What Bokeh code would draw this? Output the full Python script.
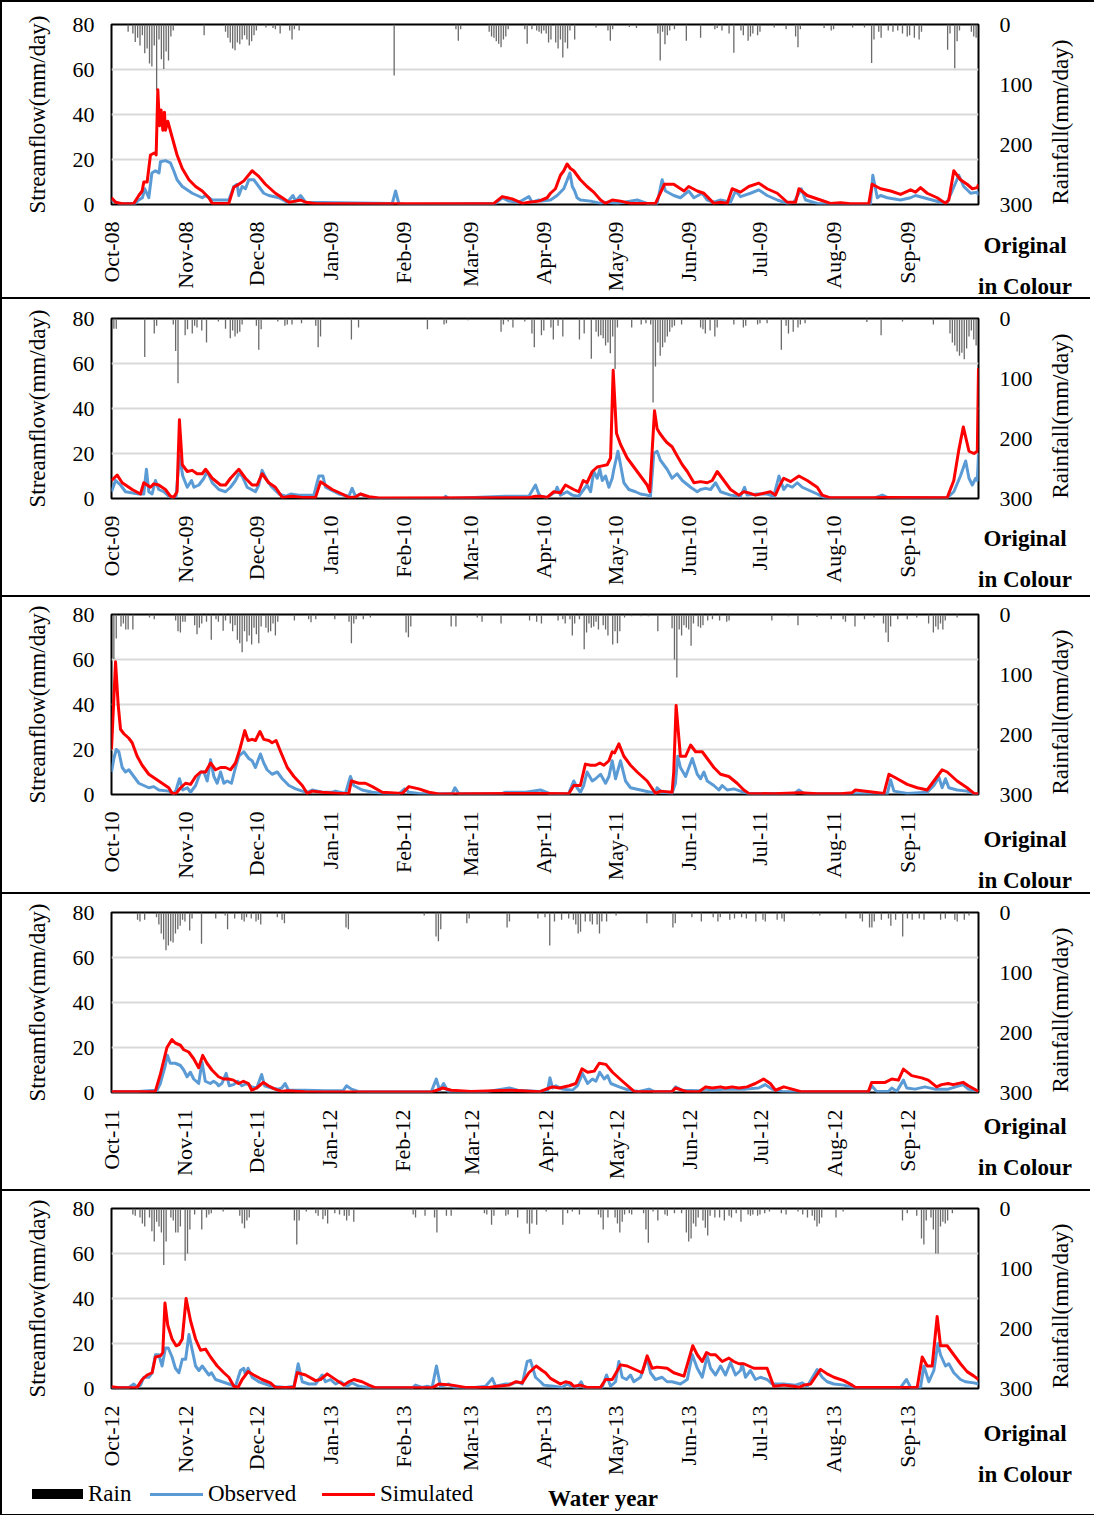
import math
import pandas as pd
from bokeh.plotting import figure
from bokeh.models import Range1d, LinearAxis, FixedTicker, Div
from bokeh.layouts import column
from bokeh.embed import file_html
from bokeh.resources import INLINE

FONT = "Liberation Serif"
WATER_YEARS = [2008, 2009, 2010, 2011, 2012]

OBS1 = [(0,2),(3,0.5),(10,0.5),(11.5,2),(13,3),(14,7),(15.7,3),(17,14),(18.5,15),(20,14),(20.6,19),(22.7,19.5),(24.8,18.5),(26.2,15),(27.6,11),(29.8,8),(34,5),(38.2,3),(39.6,4),(41,3),(42.4,2),(49.4,2),(51.5,8),(52.9,9),(53.6,4),(55,8),(56.4,7),(57.8,11),(59.9,11),(62,8),(64.1,5),(66.2,4),(70.5,3),(74,1),(76.4,4),(77.5,1.5),(79.6,4),(81.7,1),(95.7,0.8),(118.2,0.5),(119.6,6),(121,0.3),(123.8,0),(161.7,0.5),(164.5,3),(167.3,1.5),(171.5,1),(175.7,3.5),(177.1,1),(179.9,2),(181,1.5),(184.8,2),(187.6,4),(190.4,7),(193,14),(194,8),(195,6),(196,3),(197.4,2),(201.7,1.5),(205.9,0.5),(208.7,1),(212.9,0.5),(221.3,2),(225.5,0.5),(229.7,0.5),(231.8,11),(233.2,6),(236.7,4),(239.5,3),(243,6),(245.2,3),(248.7,5),(250.8,2),(253.6,1),(256.4,2),(260.6,1),(262.7,6),(264.8,3.5),(269,5),(272.5,6.5),(276,4),(280.3,2),(284.5,0.5),(287.3,1),(290.4,7),(292.2,2),(297.1,0.5),(306.9,0),(319.5,0),(320.5,13),(322.4,3),(323.8,4),(326.6,3),(332.2,2),(336.4,3),(338.5,4),(342,3),(349,1),(351.8,1),(353.9,6),(356.7,13),(358.8,8),(361.7,5),(364.5,5.5),(365,4)]
SIM1 = [(0,3),(1.7,1),(4.5,0.3),(9.4,0.5),(11.5,4),(12.9,6),(13.6,10),(15,10),(16.4,22),(18.2,23),(18.8,22),(19.5,51),(20.2,35),(20.9,42),(21.6,33),(22.3,41),(22.7,33),(23.7,37),(25.5,30),(27.6,22),(29.8,16),(32.6,11),(35.4,8),(38.2,6),(41,3),(42.4,0.5),(49.4,0.5),(51.5,7.7),(53.6,9),(55.7,10.5),(59.2,15),(62,12.5),(64.8,9),(69,5),(71.9,3),(74.7,1),(77.5,1.5),(79.6,2),(81.7,1),(86,0.3),(161,0.5),(164.5,3.5),(168.7,2.5),(173,0.5),(175.7,1),(179.9,1.5),(183.4,3),(184.8,5),(186.9,7),(189,13),(190.4,15),(191.8,18),(193.2,16),(194.6,15),(197.4,11),(200.2,8),(203,5.5),(205.9,2),(208,0.5),(210.8,2),(214.3,1.5),(218.5,0.5),(229,0.5),(232.8,9),(236.7,9),(241,6),(243,8),(246.6,6),(249.4,5),(253.6,0.5),(256.4,1),(259.2,0.5),(261.3,7),(264.8,5.5),(268.3,8),(272.5,9.5),(276,7),(280.3,5),(284.5,1),(288,1),(289.4,7),(292.9,4),(298.5,2),(302.7,0.5),(306.9,0.8),(311.1,0.3),(318.8,0.3),(320.2,9),(323.8,7),(328,6),(332.2,4.5),(336.4,6.5),(338.5,5.5),(340.6,7.5),(343.4,5),(347.6,3),(351.1,0.5),(352.5,2),(354.6,15),(357.4,11),(360.2,9),(362.4,7),(364.5,7.5),(365,9)]
RAIN1 = [(7,12),(9,15),(10,29),(11,22),(12,35),(13,18),(14,48),(15,40),(16,65),(17,70),(18,35),(19,110),(20,25),(21,58),(22,74),(23,45),(24,60),(25,20),(26,10),(39,18),(48,12),(49,22),(50,30),(51,40),(52,43),(53,30),(54,33),(55,25),(56,18),(57,25),(58,35),(59,28),(60,18),(61,10),(65,5),(68,6),(69,8),(71,15),(75,10),(76,25),(77,8),(79,10),(119,85),(145,8),(146,27),(147,8),(159,12),(160,20),(161,22),(162,28),(163,32),(164,38),(165,25),(166,20),(167,8),(174,8),(175,32),(177,8),(179,10),(180,12),(181,15),(182,10),(183,15),(184,30),(185,25),(187,30),(188,40),(189,25),(190,55),(191,30),(192,40),(193,10),(195,25),(204,5),(209,10),(210,27),(211,8),(218,4),(221,6),(230,15),(231,60),(232,12),(233,33),(234,18),(235,10),(237,8),(242,27),(248,22),(254,8),(255,6),(257,10),(260,15),(262,47),(265,10),(266,18),(268,27),(269,20),(270,15),(272,18),(273,12),(279,5),(284,8),(288,20),(289,38),(290,8),(300,6),(303,10),(304,8),(312,5),(317,5),(320,64),(321,25),(323,12),(324,22),(327,10),(329,12),(331,10),(333,15),(335,20),(336,18),(338,22),(340,25),(341,12),(352,42),(353,15),(355,73),(356,28),(357,10),(362,12),(363,20),(364,22)]

OBS2 = [(0,3),(1.7,8),(3.8,6),(5.9,3),(11.5,2),(13.6,2),(14.7,13),(15.7,3),(17.1,2),(18.5,8),(19.9,4),(22,3),(24.1,1),(25.5,0.5),(27.2,1),(28.6,19),(30,10),(31.9,5),(33.7,8),(34.7,5),(36.8,6),(38.9,9),(40.3,12),(42.4,7),(45.2,4),(48,3),(50.1,5),(52.2,8),(53.6,11),(55,10),(57.1,5),(60.6,3),(62,6),(63.4,12.5),(65.5,8),(67.6,5),(70.5,2),(73.3,1),(75.4,2),(78.9,1.5),(85.2,1.5),(87.3,10),(89,10),(90.1,5),(95.7,2),(99.9,1),(101.3,4.5),(102.7,1),(104.8,2),(108.4,0.5),(112.6,0),(140,0),(140.6,1),(142,0),(165.9,1),(175.7,1),(178.5,6),(179.9,2),(180.6,1),(183.4,0.5),(186.9,3),(187.6,5),(189,1.5),(191.8,3),(194,1.5),(196.7,1),(198.8,4),(200.2,6),(201.7,3),(203,12),(204.5,9),(205.6,13),(206.6,8),(208,10),(209.4,5),(210.8,9),(211.5,13),(213.2,21),(214.3,15),(215.7,7),(217.8,4),(220.6,3),(222.7,2),(225.5,1.5),(226.9,1),(228.3,20),(229.7,21),(231.1,17),(233.9,13),(236,9),(238.1,11),(240.3,8),(243.8,5),(246.6,3),(248,4),(250.1,4.5),(252.2,4),(254.3,7),(256.4,3),(260.6,1.5),(264.8,1),(266.5,5),(267.6,1.5),(271.8,2),(276,2),(278.8,1),(281,10),(283,4),(284.5,6),(286.6,5),(288.7,7),(290.8,5),(292.9,4),(297.1,2),(299.9,0.5),(302.7,0.2),(321,0.2),(324.5,1.5),(326.6,0.5),(351.8,0.3),(354.6,3),(357.4,10),(359.6,16.7),(361,9),(362.4,6),(363.8,9),(364.5,8),(365,20)]
SIM2 = [(0,8),(2.4,10.4),(4.5,7),(8.7,4),(12.2,2),(13.6,7),(15,6),(16.4,5),(17.8,6.5),(19.9,6),(22.7,4),(24.8,1),(26.2,0.5),(27.6,3),(28.6,35),(29.8,15),(31.9,12),(34,12.5),(36,11),(38.2,11),(39.6,13),(42.4,9),(45.9,6),(48,6),(50.1,9),(53.6,13),(56.4,9),(59.2,6),(61.3,6),(63.4,11),(66.2,7),(69,5),(71.9,0.5),(76,1),(80.3,0.5),(85.9,0.5),(88,7.4),(92.9,4),(97.1,2),(99.9,0.5),(102.7,0.7),(104.8,2),(108.4,0.8),(112.6,0.2),(175.7,0.3),(178.5,1),(180.6,1),(183.4,0.5),(186.2,3),(189,2.5),(191.1,6),(194.6,4),(196.7,3),(198.6,8),(200.2,7),(202.4,12),(204.5,14),(206.6,14.5),(208.7,15),(210.1,18),(211.2,57),(212.6,29),(214.3,24),(217.1,18),(219.9,14),(222.7,10),(225.5,6),(226.6,3),(228.6,39),(229.7,31),(230.8,29),(232.2,27),(233.7,25),(236,23),(238.1,19),(240.3,15),(242.4,12),(245.2,7),(248,7.5),(250.8,7),(252.9,8),(255,12),(257.1,9),(260.6,4),(264.1,1.5),(266.2,3),(268.3,2.5),(271.1,1.5),(275.3,2.5),(277.4,3),(279.5,1.5),(281.4,6),(283,9),(285.9,7.5),(289.4,10),(292.9,8),(297.1,5),(299.2,1.5),(302.7,0.3),(321,0.3),(325.2,0.5),(351.8,0.3),(354.6,8),(356.7,21.5),(358.6,31.8),(361,21),(363.1,20),(364.5,21),(365,58)]
RAIN2 = [(1,17),(2,17),(14,64),(18,25),(19,12),(26,10),(27,54),(28,108),(31,28),(32,18),(34,25),(35,12),(36,15),(38,20),(40,40),(45,5),(48,17),(50,33),(51,20),(52,30),(53,25),(54,22),(55,10),(61,12),(62,52),(63,18),(70,5),(73,12),(74,10),(76,10),(80,8),(86,12),(87,48),(88,30),(101,35),(104,15),(133,18),(140,10),(141,8),(150,3),(164,22),(165,10),(167,5),(169,15),(174,5),(177,25),(178,48),(181,28),(182,20),(185,15),(186,35),(188,12),(190,30),(197,35),(199,25),(202,67),(204,22),(205,30),(206,28),(207,33),(208,45),(209,40),(210,58),(211,30),(212,84),(213,15),(219,15),(223,10),(225,8),(227,10),(228,140),(229,80),(230,40),(231,62),(232,48),(233,40),(234,30),(235,22),(236,15),(237,12),(240,10),(248,15),(249,18),(250,25),(252,20),(254,30),(255,15),(262,10),(266,15),(267,12),(272,10),(273,8),(276,8),(282,52),(284,12),(285,25),(287,22),(289,15),(290,10),(292,8),(318,6),(324,28),(333,5),(346,10),(353,25),(354,40),(355,45),(356,55),(357,62),(358,57),(359,68),(360,50),(361,30),(362,20),(363,35),(364,45)]

OBS3 = [(0,10),(1,16),(2,20),(3.1,19),(4.5,12),(5.9,10),(7.3,11),(8.7,9),(10.1,7),(11.5,5),(13.6,4),(15.7,3),(17.8,3.5),(19.9,2),(24.1,1.5),(26.2,0.5),(27.2,2),(28.6,7),(30,2),(31.9,3),(33.3,1),(35.4,4),(37.5,10),(38.9,10),(40.3,6),(41.7,15.5),(43.1,8),(44.5,5),(45.9,10),(47.3,5),(48.7,6),(50.5,5),(52.2,12),(53.6,17),(55.7,19),(57.8,16),(59.2,15),(60.6,12),(62.7,18),(64.1,14),(65.5,11),(67.6,9),(69.8,10),(71.9,7),(74.7,4),(77.5,2.5),(80.3,1.5),(82.4,1),(84.5,2),(88.7,1),(92.9,1),(94.3,1.5),(98.5,0.5),(100.6,8),(102,4),(105.5,2),(109.8,1),(114,0.5),(121,0.3),(123.4,2.5),(125.2,1),(129.4,0.5),(143.4,0.3),(144.6,3),(146.2,0.3),(164.5,0.5),(165.9,1),(174.3,1),(180.6,2),(184.8,0.3),(192.5,0.5),(194.6,6),(196,3),(197.4,1),(198.8,4),(200.2,10),(202.4,6),(203.8,7),(205.9,9),(208,5),(209.4,8),(210.8,15),(212.2,7),(214.3,15),(216.4,6),(218.5,3),(222.7,2),(226.9,1),(229,0.5),(229.7,3),(231.8,1),(236,0.5),(237.4,5),(238.4,17),(239.5,12),(241.7,8),(244.5,16),(246.6,9),(248,7),(249.4,10),(250.8,6),(253.6,4),(255.7,2),(257.1,4),(259.2,2),(262,2.5),(264.8,1.5),(267.6,0.5),(278.8,0.5),(287.3,0.3),(289.4,2),(291.5,0.5),(297.1,0.3),(326.6,0.3),(328,6.5),(329.4,1.5),(335,0.5),(343.4,1),(346.2,4),(348.3,7.7),(349.7,3),(351.1,7),(352.5,3),(356,2),(360.2,1.5),(363.1,0.3),(365,0.2)]
SIM3 = [(0,20),(1.7,59),(2.8,40),(3.8,29),(5.2,27),(7.3,25),(8.7,23),(10.8,17),(12.9,13),(15.7,9),(18.5,7),(21.3,5),(24.1,3),(25.5,0.5),(27.2,0.5),(29.1,3),(31.2,5),(33.3,4.5),(35.4,8),(37.5,10),(39.6,10),(41.7,14),(43.8,11),(45.9,12),(48,12),(50.1,11),(52.2,14),(54,20),(56.1,28.4),(57.5,24),(59.2,24.5),(60.6,24),(62.5,28),(64.1,24.5),(66.2,24),(67.6,23),(69.3,24),(71.2,19),(74,12),(76.8,8),(80.3,4),(82.4,0.5),(84.5,1.5),(88.7,1),(95.7,0.5),(99.9,0.5),(101,6),(104.1,5),(106.9,5),(109.8,3.5),(114,1),(122.4,0.5),(125.2,3.5),(129.4,2.5),(133.6,1),(137.8,0.2),(180.6,0.5),(192.5,0.3),(194.6,4),(197.4,4),(199.5,13.5),(201.7,13),(203.8,13),(205.6,14),(207.3,13),(209.4,15),(210.8,19),(211.8,18.5),(213.6,22.5),(215.7,17),(218.5,13),(221.3,10),(225.5,6),(229,0.5),(231.1,1.5),(236,1),(236.7,10),(237.7,39.6),(239.5,17),(241.7,17),(243.8,22),(245.9,19),(248.7,19),(250.8,16),(253.6,12),(256.4,9),(259.9,8),(263.4,5),(266.2,2),(268.3,0.5),(278.8,0.3),(290.1,0.8),(297.1,0.3),(306.9,0.3),(311.8,0.8),(313.2,2),(321,1),(325.2,0.5),(327.3,9),(330.8,7),(335,4.5),(339.2,3),(343.4,2),(346.2,6),(349.7,11),(351.8,10),(356,6),(360.2,3),(363.1,0.5),(365,0.3)]
RAIN3 = [(1,74),(2,40),(4,20),(5,15),(6,25),(7,25),(9,25),(16,5),(18,8),(27,10),(28,28),(29,30),(30,12),(31,12),(35,18),(36,33),(37,22),(38,15),(40,12),(42,42),(44,8),(45,12),(47,27),(48,10),(50,15),(51,28),(52,18),(53,42),(54,48),(55,63),(56,28),(57,45),(58,35),(59,50),(60,22),(61,33),(62,48),(63,20),(65,22),(66,30),(67,28),(68,15),(69,35),(70,12),(77,10),(83,8),(84,13),(86,8),(94,8),(100,12),(101,48),(102,15),(103,8),(106,8),(109,5),(124,30),(125,38),(126,20),(143,20),(145,20),(154,5),(156,12),(164,15),(176,10),(179,12),(181,15),(188,10),(190,8),(191,15),(193,8),(194,35),(195,15),(197,8),(199,58),(200,30),(201,15),(202,22),(203,20),(204,12),(205,25),(207,18),(208,25),(209,35),(211,50),(212,28),(213,48),(214,28),(216,5),(219,3),(223,3),(226,3),(230,28),(236,23),(237,75),(238,105),(239,25),(240,35),(241,18),(242,22),(243,25),(244,52),(245,15),(247,20),(248,22),(249,18),(251,10),(253,8),(256,10),(259,12),(260,10),(278,10),(285,3),(289,18),(297,4),(303,8),(308,8),(309,12),(313,20),(317,8),(321,5),(325,15),(326,30),(327,46),(328,20),(331,8),(335,8),(339,5),(344,15),(346,30),(347,20),(348,25),(349,15),(350,25),(351,10),(356,5)]

OBS4 = [(0,0.5),(11.5,0.5),(15.7,0.8),(19.2,1),(20.6,4),(22.7,12),(23.6,16.6),(24.8,13),(26.9,13),(29.1,12),(30.5,10),(31.9,7),(33.3,9),(34.7,6),(36.8,4),(38.2,13.6),(39.6,5),(41.7,4),(43.1,5),(44.5,4),(45.2,3),(46.6,4),(48.4,8.5),(49.7,3),(51.5,3.5),(53.3,5),(55,3),(57.1,4),(59.2,2.5),(61.3,2),(63.4,8),(64.6,3),(67.6,2),(70.5,1.5),(71.9,2),(73.3,4),(74.7,1),(81.7,1),(90.1,0.8),(97.8,0.8),(99.2,3),(101.3,1.5),(104.1,0.5),(123.8,0.3),(135,0.3),(137.1,6),(138.5,1),(140.2,4),(142,0.5),(158.9,0.5),(168,2),(171.5,1),(180.6,0.5),(184.1,1),(185.1,6.5),(186.2,2),(187.6,3),(190.4,1.5),(194.6,1),(196.7,3),(198.8,8.5),(201,4),(203,6),(204.5,5),(206.1,9),(208,6),(209.4,7.5),(210.8,4),(214.3,2.5),(218.5,1),(222.7,0.5),(226.9,1.5),(229,0.5),(236.7,0.5),(238.1,2.5),(240.9,1),(248,0.8),(250.8,1.5),(253.6,1),(259.2,1.5),(267.6,1.5),(273.2,2),(276,3.5),(278.8,1.5),(283,0.5),(292.9,0.3),(319.5,0.3),(320.9,3),(323,0.5),(328,0.5),(329.4,2),(331.5,0.5),(334.3,5.5),(335.7,2),(339.2,1.5),(343.4,2.5),(347.6,1.5),(353.2,1.5),(359.5,3.5),(361.7,1.5),(366,0.5)]
SIM4 = [(0,0.3),(18.5,0.5),(20.6,8),(23.4,20),(25.5,23.5),(26.9,22),(29.1,21),(30.5,19),(32.6,18),(34.7,15),(36.8,11),(38.5,16.5),(40.3,13),(42.4,10),(45.2,7),(47.3,6),(49.4,6),(51.5,5.5),(53.6,4),(55.7,5),(57.8,4),(59.2,1),(61.3,2),(64.1,4.5),(66.2,3),(69,1.5),(71.9,0.5),(74,0.8),(81.7,0.3),(109.8,0.2),(135,0.2),(139.9,2),(143.4,1),(151.9,0.5),(168.7,1),(180.6,0.3),(184.8,2),(186.2,2.5),(189,2),(193.2,3),(196,4),(198.6,10.5),(201,9),(203.8,9.5),(205.9,13),(208.7,12.5),(211.5,9),(215.7,5),(220.6,0.5),(229.7,0.3),(236.7,0.5),(238.1,2),(242.4,0.5),(248,0.3),(250.8,2.5),(253.6,2),(257.1,2.5),(259.2,2),(262,2.5),(264.8,2),(268.3,2.5),(271.8,4),(275.3,6),(278.1,4),(280.3,1),(283.8,2.5),(287.3,1.5),(291.5,0.3),(319.5,0.3),(320.9,4.5),(326.6,4.5),(329.4,6),(332.2,5.5),(334.3,10.4),(337.8,7.5),(342,6.5),(344.8,5.5),(348.3,2.5),(350.4,3.5),(353.2,4),(355.3,3.5),(359.5,4.5),(361.7,3),(366,0.5)]
RAIN4 = [(11,12),(12,15),(14,12),(19,8),(20,20),(21,35),(22,45),(23,63),(24,55),(25,48),(26,50),(27,35),(28,28),(29,22),(30,12),(31,15),(33,30),(34,10),(38,52),(44,10),(48,5),(49,28),(52,10),(55,12),(56,15),(57,8),(59,10),(61,15),(62,12),(63,20),(70,8),(72,12),(73,18),(99,25),(100,28),(132,5),(137,40),(138,48),(139,28),(150,18),(151,10),(167,25),(168,15),(180,10),(183,8),(185,55),(187,15),(190,12),(193,10),(195,12),(196,20),(197,35),(198,32),(200,15),(202,15),(203,20),(205,20),(206,35),(207,15),(209,15),(213,5),(226,18),(237,25),(238,18),(245,8),(249,15),(254,8),(256,15),(257,8),(261,12),(263,10),(266,8),(268,10),(272,15),(275,12),(276,15),(281,12),(283,10),(284,15),(296,3),(299,5),(310,10),(316,10),(317,15),(320,25),(321,25),(322,15),(325,12),(328,10),(329,22),(331,12),(334,40),(336,10),(338,12),(341,10),(343,12),(350,12),(352,10),(356,12),(357,15),(360,12),(362,5)]

OBS5 = [(0,0.5),(7.3,0.5),(9.4,2),(10.8,0.5),(12.2,1.5),(13.6,5),(15.7,5),(17.1,7),(18.5,15),(19.9,15),(21.3,10),(22.7,18),(23.9,18),(25.5,14),(26.9,9),(28.4,7),(29.8,13),(31.2,13),(32.6,24),(34,17),(35.4,10),(36.8,8),(38.2,10),(39.6,8),(41,6),(42.1,7),(43.8,4),(46.6,3),(49.4,2),(52.2,1),(54.3,8),(55.7,9),(56.4,6),(57.5,9),(59.2,5),(62,3),(64.8,2),(67.6,1),(73.3,0.5),(76.8,1),(78.6,11),(80.3,3),(83.1,2),(85.9,2),(88.7,6),(90.1,3),(92.2,4),(94.3,2),(96.4,3),(99.2,1),(101.3,2.5),(104.1,1),(108.4,0.3),(126.6,0.3),(128,1.5),(130.8,0.5),(132.9,1),(135,0.5),(136.8,10),(138.5,1),(142,2),(144.1,0.5),(151.9,0.3),(157.5,1),(160.3,4.5),(161.7,1),(165.9,2),(168.7,2),(170.8,3),(172.9,2),(175,12),(176.4,12.5),(178.5,5),(180.6,3),(182,1.5),(186.2,1),(189.7,0.5),(191.8,2),(194,1),(196,0.5),(197.7,3),(198.8,0.5),(206.6,0.5),(208.4,6),(210.1,1),(212.2,3),(213.6,12),(215,5),(216.8,4),(218.5,6),(219.9,3),(222.7,5),(225.5,13.6),(226.9,7),(229,4),(231.8,5),(233.9,3),(236,3),(239.5,2),(242.4,4),(244.5,15),(246.6,9),(248.7,5),(250.8,14.4),(252.2,9),(254.3,6),(256.4,10),(258.5,6),(260.6,11.5),(262.7,6),(264.8,8),(265.5,11),(266.9,5),(269,8),(271.1,4),(273.2,5),(276,4),(278.1,2),(283,2),(288,1.5),(290.8,2.5),(292.9,1),(297.1,8.4),(299.2,5),(301.3,3),(304.1,2),(308.3,1.5),(311.8,0.5),(321,0.3),(332.2,0.5),(334.7,4),(336.4,0.5),(340.6,0.5),(342,10),(344.1,3),(346.2,8),(347.9,20),(349,15),(351.1,10),(352.5,11),(354.6,7),(357.4,4),(359.5,3),(363.1,2.5),(365,2)]
SIM5 = [(0,0.8),(3.1,0.3),(10.8,0.5),(12.9,4),(15,6),(17.1,7),(18.5,14),(20.6,14.5),(21.6,16),(22.5,38),(23.7,28),(25.5,22),(27.2,19),(28.4,19.5),(29.8,22),(31.4,40),(33.3,30),(35.4,22),(37.5,17),(39.6,17.5),(41.7,14),(44.5,10),(47.3,7),(49.4,5),(51.5,1),(53.3,0.5),(55,4),(57.5,7.5),(59.9,6),(63.4,4),(66.9,2.5),(69,0.5),(76.8,0.5),(78.2,7),(81.7,6),(85.9,3.5),(88,4),(90.8,6.5),(93.6,4.5),(97.8,1.5),(99.9,3),(102,4),(105.5,3),(108.4,1.5),(111.2,0.3),(135,0.3),(137.8,2),(143.4,1.5),(149,0.5),(158.9,0.5),(162.4,1),(167.3,1.5),(170.1,3),(172.9,2.5),(175.7,7),(178.8,10),(181.3,8),(182.7,7),(184.8,4.5),(189,2),(191.1,3),(193.2,2.5),(194.6,1),(197.4,1.5),(200.2,0.5),(205.9,0.5),(208,4),(210.8,4),(214.3,10.5),(217.1,10),(221.3,8),(223.4,7),(225.5,14.5),(227.6,9),(229.7,9.5),(233.9,9),(236.7,7),(241,5.5),(244.7,19),(246.6,15),(248.7,12),(250.5,16),(252.2,15),(254.3,15),(257.1,12),(259.9,13.5),(262,12),(264.1,11),(266.2,11),(268.3,10),(270.4,9),(273.2,9),(276,9),(278.8,1),(283,1.5),(287.3,1),(289.4,0.5),(291.5,1.5),(294.3,2),(298.5,8.5),(301.3,6.5),(304.1,5),(308.3,3.5),(311.8,1.5),(313.2,0.5),(339.2,0.5),(341.3,14),(343.4,10),(345.5,10),(347.6,32),(349,19),(351.8,19),(354.6,15),(357.4,11),(360.2,7.5),(363.1,5.5),(365,4)]
RAIN5 = [(9,10),(10,12),(12,15),(13,25),(14,30),(16,15),(17,38),(18,55),(19,22),(20,30),(21,40),(22,94),(23,55),(25,15),(26,20),(27,40),(28,40),(29,30),(31,87),(32,75),(33,35),(35,10),(38,35),(40,15),(41,10),(42,8),(47,5),(54,12),(55,25),(56,33),(57,20),(58,15),(77,20),(78,60),(79,20),(82,5),(86,8),(87,12),(89,18),(90,12),(91,25),(94,8),(96,10),(98,12),(99,20),(100,12),(102,22),(127,10),(128,15),(132,12),(136,15),(137,40),(141,12),(143,12),(157,8),(158,10),(160,27),(161,12),(166,12),(167,10),(171,15),(175,25),(176,42),(177,25),(179,27),(183,5),(190,27),(192,8),(194,5),(197,10),(205,10),(206,15),(207,35),(209,15),(212,15),(213,25),(214,40),(215,22),(216,10),(218,8),(219,10),(224,8),(225,35),(226,57),(228,5),(230,20),(233,10),(234,12),(237,8),(240,8),(242,40),(243,55),(244,50),(245,25),(246,30),(247,15),(249,20),(250,32),(251,45),(252,12),(254,15),(256,15),(258,20),(260,12),(261,15),(263,8),(265,22),(268,10),(269,12),(270,10),(272,12),(273,10),(275,8),(277,5),(282,8),(284,10),(289,5),(291,10),(293,15),(295,12),(296,20),(297,30),(298,25),(299,15),(305,15),(308,5),(333,20),(335,8),(339,12),(341,50),(342,60),(343,20),(345,15),(346,35),(347,75),(348,75),(349,30),(350,22),(351,25),(352,20),(354,8)]

OBS = [OBS1, OBS2, OBS3, OBS4, OBS5]
SIM = [SIM1, SIM2, SIM3, SIM4, SIM5]
RAIN = [RAIN1, RAIN2, RAIN3, RAIN4, RAIN5]

LEFT_TICKS = [0, 20, 40, 60, 80]
RIGHT_TICKS = [0, 100, 200, 300]
LEGEND_LABELS = ["Rain", "Observed", "Simulated"]
SERIES_COLORS = {"Rain": "black", "Observed": "#5b9bd5", "Simulated": "#ff0000"}

# panel heights include the 2px separator border (border-box sizing)
HEIGHTS = [297, 298, 297, 297, 318]
TOPS = [22, 19, 17, 18, 17]
NOTE_OFFS = [42, 41, 46, 35, 46]
SEP = 2
W = 1088
BL, BR = 109, 112
FH = 180


def unzip(pts):
    pts = sorted(pts, key=lambda t: t[0])
    return [a for a, _ in pts], [b for _, b in pts]


def make_panel(i):
    H, T = HEIGHTS[i], TOPS[i]
    B = H - T - FH
    start = pd.Timestamp(year=WATER_YEARS[i], month=10, day=1)
    end = pd.Timestamp(year=WATER_YEARS[i] + 1, month=10, day=1)
    months = pd.date_range(start, periods=12, freq="MS")
    tick_pos = [int((m - start).days) for m in months]
    tick_lab = [m.strftime("%b-%y") for m in months]
    ndays = int((end - start).days)

    last = i == len(HEIGHTS) - 1
    p = figure(width=W, height=H, x_range=Range1d(0, ndays), y_range=Range1d(0, 80),
               output_backend="svg", toolbar_location=None,
               min_border_left=BL, min_border_right=BR, min_border_top=T, min_border_bottom=B,
               background_fill_color="white", border_fill_color="white",
               styles=({} if last else {"border-bottom": f"{SEP}px solid black"}))
    p.outline_line_color = "black"
    p.outline_line_width = 2
    p.xgrid.visible = False
    p.ygrid.ticker = FixedTicker(ticks=[20, 40, 60])
    p.ygrid.grid_line_color = "#d9d9d9"
    p.ygrid.grid_line_width = 2

    p.extra_y_ranges = {"rain": Range1d(300, 0)}
    rax = LinearAxis(y_range_name="rain", ticker=FixedTicker(ticks=RIGHT_TICKS),
                     axis_label="Rainfall(mm/day)")
    p.add_layout(rax, "right")

    lax = p.yaxis[0]
    lax.ticker = FixedTicker(ticks=LEFT_TICKS)
    lax.axis_label = "Streamflow(mm/day)"
    p.xaxis.ticker = FixedTicker(ticks=tick_pos)
    p.xaxis.major_label_overrides = {tp: tl for tp, tl in zip(tick_pos, tick_lab)}
    p.xaxis.major_label_orientation = math.pi / 2

    for ax in p.axis:
        ax.major_label_text_font = FONT
        ax.major_label_text_font_size = "22px"
        ax.major_label_text_color = "black"
        ax.axis_label_text_font = FONT
        ax.axis_label_text_font_size = "23px"
        ax.axis_label_text_font_style = "normal"
        ax.axis_label_text_color = "black"
        ax.major_tick_line_color = None
        ax.minor_tick_line_color = None
        ax.axis_line_color = None
        ax.major_tick_out = 0
        ax.major_tick_in = 0
    lax.major_label_standoff = 17
    lax.axis_label_standoff = 20
    rax.major_label_standoff = 21
    rax.axis_label_standoff = 25
    rax.axis_label_orientation = math.pi / 2
    rax.axis_label_align = "end"
    p.xaxis.major_label_standoff = 17

    rx, rv = unzip(RAIN[i])
    p.segment(x0=rx, y0=[0] * len(rx), x1=rx, y1=rv, y_range_name="rain",
              line_color="#6a6a6a", line_width=1.3)
    ox, ov = unzip(OBS[i])
    p.line(ox, ov, line_color=SERIES_COLORS["Observed"], line_width=3, line_join="round")
    sx, sv = unzip(SIM[i])
    p.line(sx, sv, line_color=SERIES_COLORS["Simulated"], line_width=3, line_join="round")
    return p


panels = [make_panel(i) for i in range(5)]

# one HTML overlay carrying the texts that sit outside the plot frames
total_h = sum(HEIGHTS)
fnt = "font-family:'Liberation Serif',serif;font-size:23px;line-height:26px;color:black;white-space:nowrap;"
html = f'<div style="position:relative;width:{W}px;height:{total_h}px;">'
top = 0
for i, H in enumerate(HEIGHTS):
    frame_bottom = top + TOPS[i] + FH
    c1 = frame_bottom + NOTE_OFFS[i]
    html += (f'<div style="position:absolute;left:948px;top:{c1 - 13}px;width:140px;text-align:center;font-weight:bold;{fnt}">Original</div>'
             f'<div style="position:absolute;left:948px;top:{c1 + 28}px;width:140px;text-align:center;font-weight:bold;{fnt}">in Colour</div>')
    if i == len(HEIGHTS) - 1:
        lc = frame_bottom + 106
        sw = {"Rain": (25, 81), "Observed": (143, 201), "Simulated": (315, 373)}
        for lab in LEGEND_LABELS:
            x0, xl = sw[lab]
            c = SERIES_COLORS[lab]
            if lab == "Rain":
                html += f'<div style="position:absolute;left:{x0}px;top:{lc - 5}px;width:51px;height:10px;background:{c};"></div>'
            else:
                html += f'<div style="position:absolute;left:{x0}px;top:{lc - 1}px;width:53px;height:3px;background:{c};"></div>'
            html += f'<div style="position:absolute;left:{xl}px;top:{lc - 13}px;{fnt}">{lab}</div>'
        html += f'<div style="position:absolute;left:541px;top:{lc - 8}px;font-weight:bold;{fnt}">Water year</div>'
    top += H
html += '</div>'
overlay = Div(text=html, width=W, height=total_h,
              styles={"margin-top": f"-{total_h}px", "position": "relative", "z-index": "2",
                      "pointer-events": "none", "overflow": "visible"})

layout = column(*panels, overlay, spacing=0,
                styles={"border-left": "2px solid black", "border-right": "2px solid black",
                        "border-top": "2px solid black", "border-bottom": "2px solid black"})

open("out.html", "w").write(file_html(layout, INLINE))
